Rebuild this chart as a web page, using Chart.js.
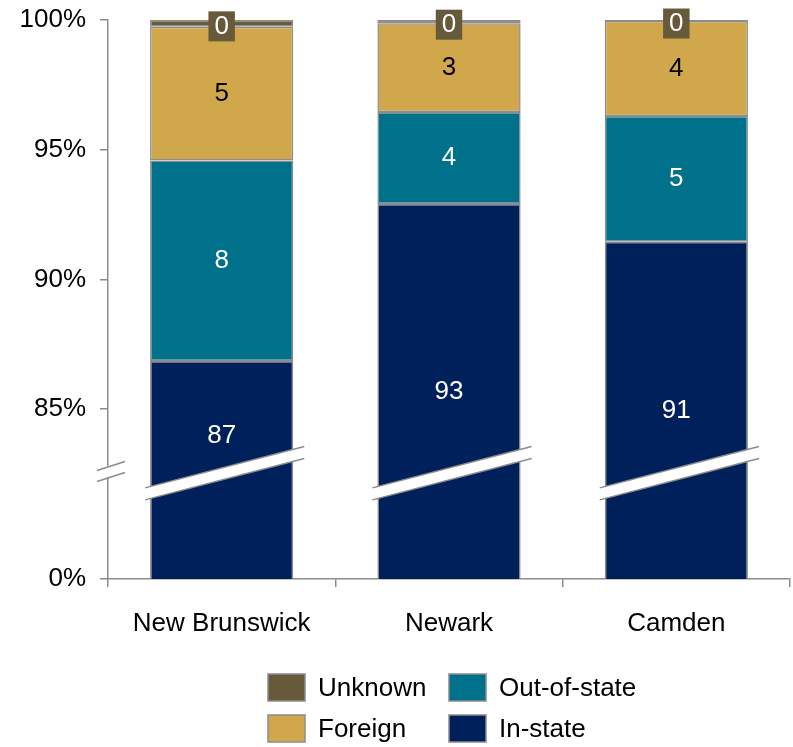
<!DOCTYPE html>
<html>
<head>
<meta charset="utf-8">
<script src="https://cdn.jsdelivr.net/npm/chart.js@4/dist/chart.umd.min.js"></script>
<style>
  body { margin: 0; background: #fff; }
  #wrap { width: 793px; height: 747px; }
</style>
</head>
<body>
<div id="wrap"><canvas id="chart"></canvas></div>
<script>
const categories = ["New Brunswick", "Newark", "Camden"];
const inState = [86.85, 92.91, 91.45];
const outOfState = [7.73, 3.54, 4.85];
const foreign = [5.16, 3.42, 3.66];
const unknown = [0.26, 0.13, 0.04];
const yTicks = [85, 90, 95, 100];
const axisFloor = 78.45; // bottom of the broken axis, labelled 0%
const breakValue = 82.5; // where the break is drawn

const FONT = "'Liberation Sans', Arial, sans-serif";
const EDGE = "#8c8c8c";

function bar(label, data, color, textColor) {
  return {
    label: label,
    data: data,
    backgroundColor: color,
    borderColor: EDGE,
    borderWidth: 1.5,
    borderSkipped: false,
    barPercentage: 0.63,
    categoryPercentage: 1,
    textColor: textColor,
  };
}

// break marks on bars and axis
const breakPlugin = {
  id: "breaks",
  afterDraw(chart) {
    const ctx = chart.ctx;
    const y = chart.scales.y;
    const by = y.getPixelForValue(breakValue);
    ctx.save();
    // bars
    const meta = chart.getDatasetMeta(0);
    const s = 0.26;
    meta.data.forEach((el) => {
      const p = el.getProps(["x", "width"], true);
      const l = p.x - p.width / 2 - 5;
      const r = p.x + p.width / 2 + 11;
      const yu = (xx) => by - 6 - s * (xx - p.x);
      ctx.fillStyle = "#fff";
      ctx.beginPath();
      ctx.moveTo(l, yu(l));
      ctx.lineTo(r, yu(r));
      ctx.lineTo(r, yu(r) + 12);
      ctx.lineTo(l, yu(l) + 12);
      ctx.closePath();
      ctx.fill();
      ctx.strokeStyle = EDGE;
      ctx.lineWidth = 1.5;
      ctx.beginPath();
      ctx.moveTo(l, yu(l));
      ctx.lineTo(r, yu(r));
      ctx.moveTo(l, yu(l) + 12);
      ctx.lineTo(r, yu(r) + 12);
      ctx.stroke();
    });
    // axis
    const ax = chart.chartArea.left;
    const s2 = 0.32;
    const ya = (xx) => by - 7 - s2 * (xx - ax);
    ctx.fillStyle = "#fff";
    ctx.fillRect(ax - 3, ya(ax) - 1, 6, 11);
    ctx.strokeStyle = EDGE;
    ctx.lineWidth = 1.5;
    ctx.beginPath();
    ctx.moveTo(ax - 11, ya(ax - 11));
    ctx.lineTo(ax + 17, ya(ax + 17));
    ctx.moveTo(ax - 11, ya(ax - 11) + 11);
    ctx.lineTo(ax + 17, ya(ax + 17) + 11);
    ctx.stroke();
    ctx.restore();
  },
};

// value labels
const labelPlugin = {
  id: "valueLabels",
  afterDraw(chart) {
    const ctx = chart.ctx;
    const area = chart.chartArea;
    const by = chart.scales.y.getPixelForValue(breakValue);
    ctx.save();
    ctx.font = "26px " + FONT;
    ctx.textAlign = "center";
    ctx.textBaseline = "middle";
    chart.data.datasets.forEach((ds, di) => {
      chart.getDatasetMeta(di).data.forEach((el, i) => {
        const p = el.getProps(["x", "y", "base"], true);
        const top = Math.min(p.y, p.base);
        const bottom = Math.min(Math.max(p.y, p.base), area.bottom);
        let cy = (top + bottom) / 2;
        if (di === 0) cy = Math.min(cy, by - 38);
        const txt = String(Math.round(ds.data[i]));
        if (ds.label === "Unknown") {
          const w = ctx.measureText(txt).width + 12;
          ctx.fillStyle = ds.backgroundColor;
          ctx.fillRect(p.x - w / 2, cy - 12, w, 30);
          cy += 3;
        }
        ctx.fillStyle = ds.textColor;
        ctx.fillText(txt, p.x, cy);
      });
    });
    ctx.restore();
  },
};

// two-column legend
const legendPlugin = {
  id: "gridLegend",
  afterDraw(chart) {
    const ctx = chart.ctx;
    const order = ["Unknown", "Foreign", "Out-of-state", "In-state"];
    const colX = [268, 449];
    const rowY = [674, 715];
    ctx.save();
    ctx.font = "26px " + FONT;
    ctx.textBaseline = "middle";
    order.forEach((name, k) => {
      const ds = chart.data.datasets.find((d) => d.label === name);
      const x = colX[Math.floor(k / 2)];
      const y = rowY[k % 2];
      ctx.fillStyle = ds.backgroundColor;
      ctx.fillRect(x, y, 37, 27);
      ctx.strokeStyle = EDGE;
      ctx.lineWidth = 1.5;
      ctx.strokeRect(x, y, 37, 27);
      ctx.fillStyle = "#000";
      ctx.fillText(name, x + 50, y + 15);
    });
    ctx.restore();
  },
};

new Chart(document.getElementById("chart"), {
  type: "bar",
  data: {
    labels: categories,
    datasets: [
      bar("In-state", inState, "#00205b", "#fff"),
      bar("Out-of-state", outOfState, "#00718a", "#fff"),
      bar("Foreign", foreign, "#d1a74c", "#000"),
      bar("Unknown", unknown, "#675a3a", "#fff"),
    ],
  },
  options: {
    responsive: true,
    maintainAspectRatio: false,
    animation: false,
    layout: { padding: { top: 20, right: 3, left: 0, bottom: 0 } },
    plugins: {
      legend: { display: false },
      tooltip: { enabled: false },
    },
    scales: {
      x: {
        stacked: true,
        grid: { drawOnChartArea: false, tickLength: 8, color: EDGE, lineWidth: 1.5 },
        border: { color: EDGE, width: 1.5 },
        ticks: { color: "#000", font: { family: FONT, size: 26 }, padding: 21, maxRotation: 0 },
        afterFit(scale) {
          scale.height = 168;
          scale.paddingLeft = 0;
          scale.paddingRight = 0;
        },
      },
      y: {
        stacked: true,
        min: axisFloor,
        max: 100,
        grid: { drawOnChartArea: false, tickLength: 8, color: EDGE, lineWidth: 1.5 },
        border: { color: EDGE, width: 1.5 },
        afterBuildTicks(scale) {
          scale.ticks = [axisFloor].concat(yTicks).map((v) => ({ value: v }));
        },
        ticks: {
          color: "#000",
          font: { family: FONT, size: 26 },
          padding: 14,
          callback: (v) => (v === axisFloor ? "0%" : v + "%"),
        },
        afterFit(scale) {
          scale.width = 108;
          scale.paddingTop = 0;
          scale.paddingBottom = 0;
        },
      },
    },
  },
  plugins: [breakPlugin, labelPlugin, legendPlugin],
});
</script>
</body>
</html>
